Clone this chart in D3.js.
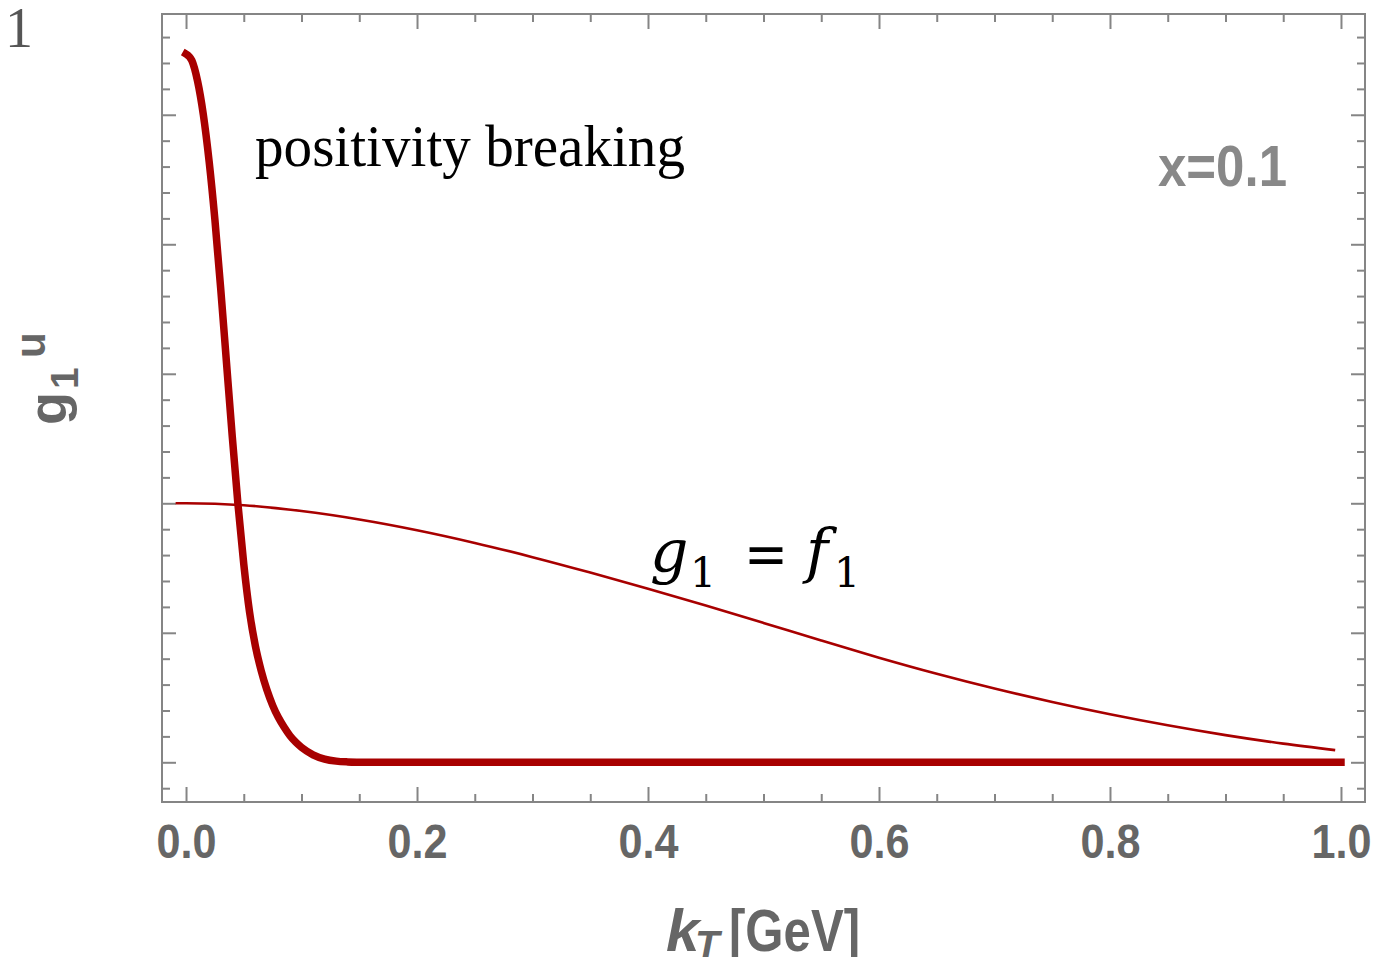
<!DOCTYPE html>
<html>
<head>
<meta charset="utf-8">
<script src="https://cdn.jsdelivr.net/npm/d3@7"></script>
<style>
  body { margin: 0; background: #fff; }
  svg { display: block; }
</style>
</head>
<body>
<svg id="chart" width="1400" height="957"></svg>
<script>
// thick curve (positivity breaking), kT in GeV, y in units of one major tick
var thickK = [0, 0.005, 0.01, 0.015, 0.02, 0.025, 0.03, 0.035, 0.04, 0.045, 0.05, 0.055, 0.06, 0.065, 0.07, 0.075, 0.08, 0.085, 0.09, 0.095, 0.1, 0.11, 0.12, 0.13, 0.14, 0.15, 0.16, 0.2, 0.4, 0.6, 0.8, 1.0];
var thickG = [5.47, 5.42, 5.26, 5.0, 4.64, 4.19, 3.66, 3.09, 2.52, 1.99, 1.53, 1.16, 0.9, 0.71, 0.56, 0.44, 0.345, 0.27, 0.205, 0.155, 0.115, 0.058, 0.025, 0.009, 0.003, 0.001, 0, 0, 0, 0, 0, 0];

// thin curve g1 = f1
var thinK = [-0.009, 0, 0.05, 0.1, 0.15, 0.2, 0.25, 0.3, 0.35, 0.4, 0.45, 0.5, 0.55, 0.6, 0.65, 0.7, 0.75, 0.8, 0.85, 0.9, 0.95, 0.995];
var thinG = [2.0, 2.0, 1.985, 1.94, 1.875, 1.792, 1.694, 1.584, 1.465, 1.34, 1.21, 1.076, 0.94, 0.808, 0.684, 0.57, 0.466, 0.371, 0.286, 0.21, 0.144, 0.094];

var xMajor = [0, 0.2, 0.4, 0.6, 0.8, 1.0];
var xMinor = [0.05, 0.1, 0.15, 0.25, 0.3, 0.35, 0.45, 0.5, 0.55, 0.65, 0.7, 0.75, 0.85, 0.9, 0.95];
var yMajor = [0, 1, 2, 3, 4, 5];
var yMinor = [-0.2, 0.2, 0.4, 0.6, 0.8, 1.2, 1.4, 1.6, 1.8, 2.2, 2.4, 2.6, 2.8, 3.2, 3.4, 3.6, 3.8, 4.2, 4.4, 4.6, 4.8, 5.2, 5.4, 5.6];

var plotL = 162, plotR = 1365, plotT = 14, plotB = 802;
var red = "#a80000", frameGrey = "#858585", labelGrey = "#666";

var svg = d3.select("#chart");

var x = d3.scaleLinear().domain([-0.0208, 1.0208]).range([plotL, plotR]);
var y = d3.scaleLinear().domain([-0.3066, 5.782]).range([plotB, 13.5]);

function tickAxis(axis, pos, size, vals) {
    var g = svg.append("g")
        .attr("transform", pos)
        .call(axis.tickValues(vals).tickSize(size).tickFormat(""));
    g.select(".domain").remove();
    g.selectAll("line").attr("stroke", frameGrey).attr("stroke-width", 2);
    return g;
}

// minor ticks
tickAxis(d3.axisBottom(x), "translate(0," + plotB + ")", -8, xMinor);
tickAxis(d3.axisTop(x), "translate(0," + plotT + ")", -8, xMinor);
tickAxis(d3.axisLeft(y), "translate(" + plotL + ",0)", -8, yMinor);
tickAxis(d3.axisRight(y), "translate(" + plotR + ",0)", -8, yMinor);
// major ticks
tickAxis(d3.axisTop(x), "translate(0," + plotT + ")", -15, xMajor);
tickAxis(d3.axisLeft(y), "translate(" + plotL + ",0)", -14, yMajor);
tickAxis(d3.axisRight(y), "translate(" + plotR + ",0)", -14, yMajor);

var xAxis = svg.append("g")
    .attr("transform", "translate(0," + plotB + ")")
    .call(d3.axisBottom(x).tickValues(xMajor).tickSize(-15).tickPadding(22).tickFormat(d3.format(".1f")));
xAxis.select(".domain").remove();
xAxis.selectAll("line").attr("stroke", frameGrey).attr("stroke-width", 2);
xAxis.selectAll("text")
    .attr("fill", labelGrey)
    .attr("font-family", "Liberation Sans, Arial, sans-serif")
    .attr("font-weight", "bold")
    .attr("font-size", 48)
    .attr("textLength", 60)
    .attr("lengthAdjust", "spacingAndGlyphs");

// frame
svg.append("rect")
    .attr("x", plotL).attr("y", plotT)
    .attr("width", plotR - plotL).attr("height", plotB - plotT)
    .attr("fill", "none").attr("stroke", frameGrey).attr("stroke-width", 2);

// curves
var line = d3.line()
    .x(function (d) { return x(d[0]); })
    .y(function (d) { return y(d[1]); })
    .curve(d3.curveMonotoneX);

svg.append("path")
    .datum(d3.zip(thinK, thinG))
    .attr("d", line)
    .attr("fill", "none")
    .attr("stroke", red)
    .attr("stroke-width", 2.6);

svg.append("path")
    .datum(d3.zip(thickK, thickG))
    .attr("d", line)
    .attr("fill", "none")
    .attr("stroke", red)
    .attr("stroke-width", 7.5)
    .attr("stroke-linecap", "square")
    .attr("stroke-linejoin", "round");

// texts
svg.append("text")
    .attr("x", 5).attr("y", 47)
    .attr("font-family", "Liberation Serif, serif")
    .attr("font-size", 56)
    .attr("fill", "#555")
    .text("1");

svg.append("text")
    .attr("x", 255).attr("y", 166)
    .attr("font-family", "Liberation Serif, serif")
    .attr("font-size", 60)
    .attr("textLength", 430)
    .attr("lengthAdjust", "spacingAndGlyphs")
    .attr("fill", "#000")
    .text("positivity breaking");

svg.append("text")
    .attr("x", 1158).attr("y", 186)
    .attr("font-family", "Liberation Sans, Arial, sans-serif")
    .attr("font-weight", "bold")
    .attr("font-size", 57)
    .attr("textLength", 129)
    .attr("lengthAdjust", "spacingAndGlyphs")
    .attr("fill", "#888")
    .text("x=0.1");

// g1 = f1
var math = svg.append("g")
    .attr("font-family", "DejaVu Serif, serif")
    .attr("fill", "#000");
math.append("text").attr("x", 650).attr("y", 572).attr("font-size", 60).attr("font-style", "italic").text("g");
math.append("text").attr("x", 690).attr("y", 587).attr("font-size", 41).text("1");
math.append("text").attr("x", 744).attr("y", 574).attr("font-size", 60)
    .attr("textLength", 44).attr("lengthAdjust", "spacingAndGlyphs").text("=");
math.append("text").attr("x", 806).attr("y", 572).attr("font-size", 60).attr("font-style", "italic").text("f");
math.append("text").attr("x", 834).attr("y", 587).attr("font-size", 41).text("1");

// x axis title
var xt = svg.append("text")
    .attr("y", 951)
    .attr("font-family", "Liberation Sans, Arial, sans-serif")
    .attr("font-weight", "bold")
    .attr("fill", labelGrey);
xt.append("tspan").attr("x", 666).attr("font-size", 60).attr("font-style", "italic").text("k");
xt.append("tspan").attr("x", 695).attr("dy", 8).attr("font-size", 40).attr("font-style", "italic").text("T");
xt.append("tspan").attr("x", 729).attr("dy", -8).attr("font-size", 60)
    .attr("textLength", 131).attr("lengthAdjust", "spacingAndGlyphs").text("[GeV]");

// y axis title
var yt = svg.append("text")
    .attr("transform", "translate(66,425) rotate(-90)")
    .attr("font-family", "Liberation Sans, Arial, sans-serif")
    .attr("font-weight", "bold")
    .attr("fill", labelGrey);
yt.append("tspan").attr("x", 0).attr("y", 0).attr("font-size", 54).text("g");
yt.append("tspan").attr("x", 36).attr("y", 12).attr("font-size", 39).text("1");
yt.append("tspan").attr("x", 67).attr("y", -21).attr("font-size", 42).text("u");
</script>
</body>
</html>
